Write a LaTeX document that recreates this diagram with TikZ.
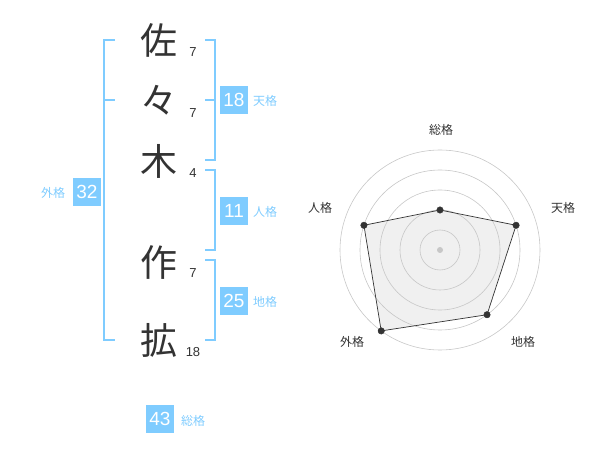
\documentclass[tikz,border=0pt]{standalone}
\usepackage{fontspec}
\setmainfont{Liberation Sans}
\newfontfamily\jpfont{Noto Sans CJK JP}
\definecolor{kakublue}{RGB}{127,204,255}
\definecolor{inkgray}{RGB}{51,51,51}
\tikzset{
    kanji/.style={font=\jpfont\fontsize{37}{37}\selectfont, text=inkgray, inner sep=0pt},
    strokes/.style={font=\fontsize{13}{13}\selectfont, text=inkgray, inner sep=0pt},
    numbox/.style={fill=kakublue, text=white, minimum size=28pt, inner sep=0pt, font=\fontsize{19}{19}\selectfont},
    kakulbl/.style={font=\jpfont\fontsize{12}{12}\selectfont, text=kakublue, inner sep=0pt},
    bracket/.style={draw=kakublue, line width=1.6pt},
    radarlbl/.style={font=\jpfont\fontsize{12}{12}\selectfont, text=inkgray, inner sep=0pt},
    radardot/.style={draw=inkgray, shape=circle, fill=inkgray, minimum size=6.5pt, inner sep=0pt}
}
\begin{document}
\begin{tikzpicture}[x=1pt, y=-1pt]
        \useasboundingbox (0,0) rectangle (600,470);

        % name
        \node[kanji] (sa) at (159,40) {佐};
        \node[kanji] (noma) at (159,100) {々};
        \node[kanji] (ki) at (159,161) {木};
        \node[kanji] (saku) at (159,262) {作};
        \node[kanji] (kaku) at (159,340) {拡};
        \node[strokes] (s1) at (193,52) {7};
        \node[strokes] (s2) at (193,113) {7};
        \node[strokes] (s3) at (193,173) {4};
        \node[strokes] (s4) at (193,273) {7};
        \node[strokes] (s5) at (193,352) {18};

        % brackets
        \draw[bracket] (115,40) -- (104,40) -- (104,340) -- (115,340);
        \draw[bracket] (104,100) -- (115,100);
        \draw[bracket] (205,40) -- (215,40) -- (215,160) -- (205,160);
        \draw[bracket] (205,100) -- (215,100);
        \draw[bracket] (205,170) -- (215,170) -- (215,250) -- (205,250);
        \draw[bracket] (205,260) -- (215,260) -- (215,340) -- (205,340);

        % kaku numbers
        \node[numbox] (ten) at (234,100) {18};
        \node[kakulbl] at (265,101) {天格};
        \node[numbox] (jin) at (234,211) {11};
        \node[kakulbl] at (265,212) {人格};
        \node[numbox] (chi) at (234,301) {25};
        \node[kakulbl] at (265,302) {地格};
        \node[numbox] (gai) at (87,192) {32};
        \node[kakulbl] at (53,193) {外格};
        \node[numbox] (sou) at (160,419) {43};
        \node[kakulbl] at (193,421) {総格};

        % radar
        \coordinate (center) at (440,250);
        \coordinate (psou) at ([shift={(90:40pt)}]center);
        \coordinate (pten) at ([shift={(18:80pt)}]center);
        \coordinate (pchi) at ([shift={(-54:80pt)}]center);
        \coordinate (pgai) at ([shift={(-126:100pt)}]center);
        \coordinate (pjin) at ([shift={(162:80pt)}]center);
        \fill[black!6] (psou) -- (pten) -- (pchi) -- (pgai) -- (pjin) -- cycle;
        \foreach \r in {20,40,...,100}
            \draw[black!22, line width=0.6pt] (center) circle (\r pt);
        \draw[inkgray, line width=0.7pt] (psou) -- (pten) -- (pchi) -- (pgai) -- (pjin) -- cycle;
        \node [shape=circle, fill=black!22, minimum size=6pt, inner sep=0pt] at (center){};
        \foreach \p in {psou,pten,pchi,pgai,pjin}
            \node[radardot] at (\p){};

        \node[radarlbl] at (441,130) {総格};
        \node[radarlbl] at (563,208) {天格};
        \node[radarlbl] at (523,342) {地格};
        \node[radarlbl] at (352,342) {外格};
        \node[radarlbl] at (320,208) {人格};
    \end{tikzpicture}
\end{document}
